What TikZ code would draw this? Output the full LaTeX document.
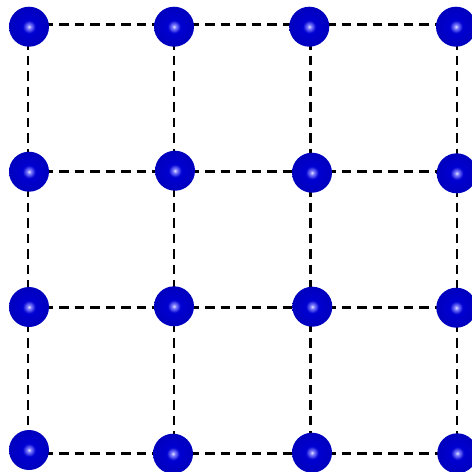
\documentclass[tikz,border=0pt]{standalone}
\usetikzlibrary{backgrounds}
\pgfdeclareradialshading{myball}{\pgfqpoint{0bp}{0bp}}{%
 color(0bp)=(white!90!blue);
 color(2.5bp)=(blue!50!white);
 color(8bp)=(blue!82!black);
 color(26bp)=(blue!74!black);
 color(37bp)=(blue!55!black);
 color(45bp)=(blue!30!black);
 color(50bp)=(blue!20!black)}
\tikzset{
  atom/.style={circle, minimum size=40pt, inner sep=0pt, shading=myball},
  bond/.style={line width=2.7pt, dash pattern=on 9.5pt off 6pt, black},
  gp/.style={coordinate}
}
\begin{document}
\begin{tikzpicture}[x=1pt,y=-1pt]
\useasboundingbox (0,0) rectangle (472,472);
% lattice points
\foreach \r/\y in {1/24.6,2/171.7,3/307.3,4/453.5}{
  \foreach \c/\x in {1/28,2/174,3/310.5,4/457}{
    \coordinate (g\r\c) at (\x,\y);
  }
}
% atoms
\node[atom] (a11) at (29,26.7) {};
\node[atom] (a12) at (174,26.7) {};
\node[atom] (a13) at (309.3,26.7) {};
\node[atom] (a14) at (456,26.7) {};
\node[atom] (a21) at (29,171.7) {};
\node[atom] (a22) at (175,170.7) {};
\node[atom] (a23) at (312,172.7) {};
\node[atom] (a24) at (456.7,173.3) {};
\node[atom] (a31) at (29,307) {};
\node[atom] (a32) at (174,306.3) {};
\node[atom] (a33) at (312.3,306.7) {};
\node[atom] (a34) at (456.3,307.7) {};
\node[atom] (a41) at (29,450) {};
\node[atom] (a42) at (173,453.7) {};
\node[atom] (a43) at (312,452.7) {};
\node[atom] (a44) at (457.3,453.3) {};
\begin{scope}[on background layer]
\foreach \i in {1,2,3,4}{
  \draw[bond] (g\i1) -- (g\i2);
  \draw[bond] (g\i2) -- (g\i3);
  \draw[bond] (g\i3) -- (g\i4);
  \draw[bond] (g1\i) -- (g2\i);
  \draw[bond] (g2\i) -- (g3\i);
  \draw[bond] (g3\i) -- (g4\i);
}
\end{scope}
\end{tikzpicture}
\end{document}
